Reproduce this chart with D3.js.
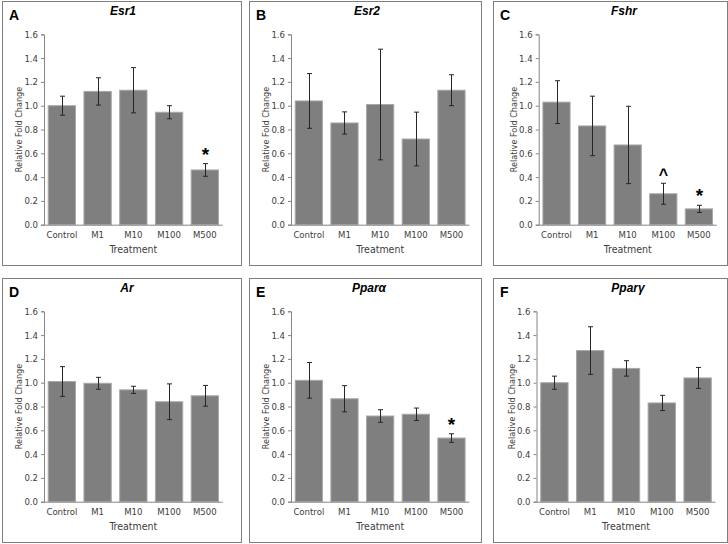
<!DOCTYPE html>
<html>
<head>
<meta charset="utf-8">
<script src="https://cdn.jsdelivr.net/npm/d3@7"></script>
<style>
  body { margin: 0; background: #fff; }
  svg { display: block; }
  .lab { font-family: "Liberation Sans Narrow", "Arial Narrow", "DejaVu Sans Condensed", sans-serif; fill: #404040; }
  .ttl { font-family: "Liberation Sans", Arial, sans-serif; font-weight: bold; font-style: italic; fill: #000; }
  .let { font-family: "Liberation Sans", Arial, sans-serif; font-weight: bold; fill: #000; }
  .mark { font-family: "Liberation Sans", Arial, sans-serif; font-weight: bold; fill: #000; }
</style>
</head>
<body>
<svg id="chart" width="728" height="544"></svg>
<script>
// data
const categories = ["Control", "M1", "M10", "M100", "M500"];
const genes = ["Esr1", "Esr2", "Fshr", "Ar", "Pparα", "Pparγ"];
const panelLetters = ["A", "B", "C", "D", "E", "F"];
const yTicks = [0, 0.2, 0.4, 0.6, 0.8, 1.0, 1.2, 1.4, 1.6];

const esr1Mean = [1.00, 1.12, 1.13, 0.945, 0.46];
const esr1Err = [0.08, 0.115, 0.19, 0.055, 0.053];
const esr2Mean = [1.04, 0.855, 1.01, 0.72, 1.13];
const esr2Err = [0.23, 0.093, 0.465, 0.226, 0.13];
const fshrMean = [1.03, 0.83, 0.67, 0.26, 0.133];
const fshrErr = [0.18, 0.25, 0.325, 0.088, 0.03];
const arMean = [1.01, 0.995, 0.94, 0.84, 0.89];
const arErr = [0.125, 0.05, 0.03, 0.15, 0.087];
const pparaMean = [1.02, 0.865, 0.72, 0.735, 0.535];
const pparaErr = [0.15, 0.11, 0.053, 0.052, 0.036];
const ppargMean = [1.00, 1.27, 1.12, 0.83, 1.04];
const ppargErr = [0.055, 0.2, 0.065, 0.064, 0.088];

const esr1Marks = ["", "", "", "", "*"];
const esr2Marks = ["", "", "", "", ""];
const fshrMarks = ["", "", "", "^", "*"];
const arMarks = ["", "", "", "", ""];
const pparaMarks = ["", "", "", "", "*"];
const ppargMarks = ["", "", "", "", ""];

const means = [esr1Mean, esr2Mean, fshrMean, arMean, pparaMean, ppargMean];
const errs = [esr1Err, esr2Err, fshrErr, arErr, pparaErr, ppargErr];
const marks = [esr1Marks, esr2Marks, fshrMarks, arMarks, pparaMarks, ppargMarks];

// panel layout (pixels)
const layout = [
  { left: 2, right: 241, axisX: 44, plotRight: 222.7, titleX: 123, row: 0 },
  { left: 249, right: 481, axisX: 291, plotRight: 469.3, titleX: 367, row: 0 },
  { left: 493, right: 727, axisX: 538.7, plotRight: 716.7, titleX: 624, row: 0 },
  { left: 2, right: 241, axisX: 44, plotRight: 222.7, titleX: 127, row: 1 },
  { left: 249, right: 481, axisX: 291, plotRight: 469.3, titleX: 369, row: 1 },
  { left: 493, right: 727, axisX: 536.5, plotRight: 715.5, titleX: 628, row: 1 }
];
const rowTop = [0, 277];

const svg = d3.select("#chart");

genes.forEach((gene, i) => {
  const L = layout[i];
  const top = rowTop[L.row];
  const g = svg.append("g");

  // chart border
  g.append("rect")
    .attr("x", L.left + 0.5).attr("y", top + 1.5)
    .attr("width", L.right - L.left).attr("height", 264)
    .attr("fill", "none").attr("stroke", "#7f7f7f").attr("stroke-width", 1);

  const x = d3.scaleBand().domain(categories)
    .range([L.axisX, L.plotRight])
    .paddingInner(0.236).paddingOuter(0.118);
  const y = d3.scaleLinear().domain([0, 1.6]).range([top + 224.7, top + 34.3]);

  // y axis
  const yAxis = g.append("g")
    .attr("transform", `translate(${L.axisX},0)`)
    .call(d3.axisLeft(y).tickValues(yTicks).tickFormat(d3.format(".1f")).tickSize(3).tickPadding(3));
  yAxis.select(".domain").attr("stroke", "#868686");
  yAxis.selectAll(".tick line").attr("stroke", "#868686");
  yAxis.selectAll("text").attr("class", "lab").style("font-size", "9.5px").attr("fill", null);

  // bars
  g.selectAll(".bar").data(means[i]).join("rect")
    .attr("class", "bar")
    .attr("x", (d, j) => x(categories[j]))
    .attr("y", d => y(d))
    .attr("width", x.bandwidth())
    .attr("height", d => y(0) - y(d))
    .attr("fill", "#7f7f7f")
    .attr("stroke", "#a9a9a9").attr("stroke-width", 1);

  // x axis line
  g.append("line")
    .attr("x1", L.axisX).attr("x2", L.plotRight)
    .attr("y1", y(0) + 0.5).attr("y2", y(0) + 0.5)
    .attr("stroke", "#868686");

  // error bars
  const eb = g.selectAll(".err").data(means[i]).join("g").attr("class", "err")
    .attr("stroke", "#262626").attr("stroke-width", 1);
  const cx = j => Math.round(x(categories[j]) + x.bandwidth() / 2) + 0.5;
  eb.append("line")
    .attr("x1", (d, j) => cx(j)).attr("x2", (d, j) => cx(j))
    .attr("y1", (d, j) => y(d + errs[i][j])).attr("y2", (d, j) => y(d - errs[i][j]));
  eb.append("line")
    .attr("x1", (d, j) => cx(j) - 2.5).attr("x2", (d, j) => cx(j) + 2.5)
    .attr("y1", (d, j) => y(d + errs[i][j])).attr("y2", (d, j) => y(d + errs[i][j]));
  eb.append("line")
    .attr("x1", (d, j) => cx(j) - 2.5).attr("x2", (d, j) => cx(j) + 2.5)
    .attr("y1", (d, j) => y(d - errs[i][j])).attr("y2", (d, j) => y(d - errs[i][j]));

  // significance marks
  g.selectAll(".mark").data(marks[i]).join("text")
    .attr("class", "mark")
    .attr("x", (d, j) => cx(j))
    .attr("y", (d, j) => y(means[i][j] + errs[i][j]) + (d === "^" ? -3 : -3))
    .attr("text-anchor", "middle")
    .style("font-size", d => d === "^" ? "16px" : "19px")
    .text(d => d);

  // category labels
  g.selectAll(".xl").data(categories).join("text")
    .attr("class", "lab")
    .attr("x", d => x(d) + x.bandwidth() / 2)
    .attr("y", top + 238)
    .attr("text-anchor", "middle")
    .style("font-size", "9.5px")
    .text(d => d);

  // axis titles
  g.append("text").attr("class", "lab")
    .attr("x", (L.axisX + L.plotRight) / 2).attr("y", top + 253)
    .attr("text-anchor", "middle").style("font-size", "10.5px")
    .text("Treatment");
  g.append("text").attr("class", "lab")
    .attr("transform", `translate(${L.axisX - 22},${top + 129.5}) rotate(-90)`)
    .attr("text-anchor", "middle").style("font-size", "9px")
    .text("Relative Fold Change");

  // gene title and panel letter
  g.append("text").attr("class", "ttl")
    .attr("x", L.titleX).attr("y", top + 15)
    .attr("text-anchor", "middle").style("font-size", "12px")
    .text(gene);
  g.append("text").attr("class", "let")
    .attr("x", L.left + 7).attr("y", top + 20)
    .style("font-size", "14px")
    .text(panelLetters[i]);
});
</script>
</body>
</html>
